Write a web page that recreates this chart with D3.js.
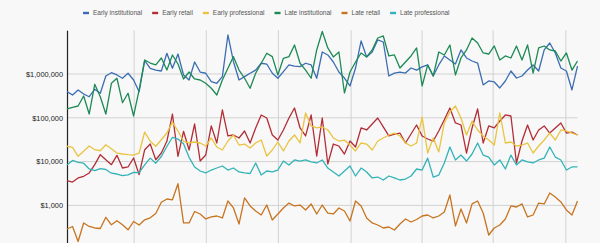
<!DOCTYPE html>
<html><head><meta charset="utf-8">
<script src="https://cdn.jsdelivr.net/npm/d3@7"></script>
<style>
body{margin:0;background:#f8f8f8;}
svg{display:block;font-family:"Liberation Sans",Arial,sans-serif;}
</style>
</head><body>
<svg id="chart" width="600" height="243"></svg>
<script>
const seriesNames = ["Early institutional","Early retail","Early professional","Late institutional","Late retail","Late professional"];
const seriesColors = ["#3b6db3","#b32d36","#e9c440","#1d8a55","#c8741f","#32b3b8"];

const earlyInstitutional = [395000,332000,432000,350000,303000,448000,363000,900000,1070000,950000,800000,1040000,730000,395000,2010000,1350000,1230000,1170000,2970000,1350000,2860000,950000,730000,1880000,1110000,1040000,668000,614000,869000,7780000,1910000,730000,869000,1040000,1230000,1760000,1690000,1040000,800000,1130000,1610000,1520000,1470000,1760000,1610000,800000,3180000,2720000,1880000,1110000,810000,533000,1370000,5680000,2450000,3180000,5980000,5380000,900000,1050000,1110000,1050000,1370000,1230000,1450000,1610000,900000,1610000,2580000,2090000,1690000,3540000,2320000,1980000,1780000,562000,693000,658000,480000,693000,1170000,810000,900000,1230000,1610000,1170000,3540000,5110000,3020000,1370000,1170000,432000,1520000];
const earlyRetail = [3670,3420,4230,4620,5500,8510,14400,11000,8510,13900,7140,7540,12100,5030,18700,25200,11000,15700,29100,122000,13200,49200,18400,72200,10300,14100,65100,26600,151000,38500,40500,34600,50000,26600,58600,116000,99000,40500,31100,52700,99000,167000,58600,38500,116000,13400,99000,8820,25200,22700,14900,29500,21500,58600,52700,72200,99000,61800,38500,42600,44900,26600,42600,68500,38500,32800,29500,50000,90000,167000,76200,68500,15700,58600,159000,26600,65100,58600,84500,116000,110000,9300,29500,68500,31100,52700,65100,44900,58600,76200,44900,47300,40500];
const earlyProfessional = [22400,21200,13200,17200,22700,18700,17700,24300,19700,15700,14900,14400,14100,15700,47300,29100,22400,31600,44900,79500,50000,29100,26600,28000,26600,22700,34600,21500,18400,29500,40500,23900,25200,20400,26600,31100,13400,18400,28000,17500,29500,40500,26600,129000,65100,58600,61800,52700,34600,29500,31100,23900,17500,26600,25200,18400,29500,34600,40500,44900,38500,26600,22700,26600,104000,15700,34600,16600,76200,136000,186000,99000,40500,84500,52700,38500,31100,23900,129000,26600,28000,22700,23900,26600,15700,22700,31100,44900,31100,52700,50000,44900,40500];
const lateInstitutional = [159000,174000,186000,315000,122000,583000,303000,122000,614000,800000,221000,363000,110000,432000,2090000,1780000,1610000,2320000,1230000,2720000,1690000,770000,1110000,770000,730000,614000,472000,332000,730000,1350000,2490000,1230000,800000,472000,1040000,1760000,2970000,2490000,950000,2280000,2490000,4600000,1760000,1230000,800000,3540000,9360000,3930000,2450000,3180000,369000,1110000,1880000,3020000,2450000,3540000,6640000,7380000,2580000,2720000,1370000,1880000,2580000,3930000,533000,1610000,900000,3180000,2720000,4600000,950000,2320000,3540000,6640000,5110000,3020000,2860000,4360000,2090000,2580000,2320000,4360000,2090000,4600000,1050000,3930000,4360000,3540000,3350000,1980000,3020000,1230000,1980000];
const lateRetail = [289,330,150,397,330,305,297,535,361,448,361,277,429,357,469,521,654,1180,1400,1340,3130,400,397,726,637,490,544,573,516,1260,874,376,1480,970,746,604,1020,464,637,874,1130,970,1020,786,1080,637,1020,670,637,874,746,440,1260,970,516,397,357,305,321,274,376,490,418,477,573,604,516,573,708,1730,339,829,397,1080,1260,670,211,305,357,490,970,920,1080,544,604,1130,1080,1920,1560,1200,786,604,1260];
const lateProfessional = [8370,10600,9650,9200,6780,6200,6890,6600,5440,5210,4770,5000,5700,5580,8450,12000,9200,13100,22100,35900,32800,25600,12500,7540,6100,5500,6420,7140,7940,6420,7140,5800,5500,5350,9300,4940,6100,5800,6420,10300,8370,10900,10300,10900,9800,9300,10900,7140,5800,4690,6100,7940,4690,7140,5800,4230,4440,3800,4690,4230,3800,4000,4690,6780,6420,12000,4440,4940,9300,21500,10900,14100,10300,14900,26600,14100,12700,8370,10900,6780,14100,8370,10900,9800,9300,10900,12000,21500,12700,10900,6420,7540,7540];

const yTickValues = [1000, 10000, 100000, 1000000];
const quarterGridWeeks = [12.1, 25.1, 38.1, 51.2, 64.0, 76.8, 89.9];

const allSeries = [earlyInstitutional, earlyRetail, earlyProfessional, lateInstitutional, lateRetail, lateProfessional];

const svg = d3.select("#chart");
const W = 600, H = 243;
const margin = {left: 67, right: 22.5, top: 30.2};
const plotBottom = 249.2;

const x = d3.scaleLinear().domain([0, earlyInstitutional.length - 1]).range([margin.left, W - margin.right]);
const y = d3.scaleLog().domain([100, 10000000]).range([plotBottom, margin.top]);

svg.append("rect").attr("width", W).attr("height", H).attr("fill", "#f8f8f8");

// horizontal grid
svg.append("g").selectAll("line").data(yTickValues).join("line")
  .attr("x1", x.range()[0]).attr("x2", x.range()[1])
  .attr("y1", d => y(d)).attr("y2", d => y(d))
  .attr("stroke", "#d2d2d2").attr("stroke-width", 1);

// vertical grid
svg.append("g").selectAll("line").data(quarterGridWeeks).join("line")
  .attr("x1", d => x(d)).attr("x2", d => x(d))
  .attr("y1", margin.top).attr("y2", plotBottom)
  .attr("stroke", "#d2d2d2").attr("stroke-width", 1);

// y axis
const yAxis = d3.axisLeft(y).tickValues(yTickValues).tickSize(0).tickPadding(4)
  .tickFormat(d => "$" + d3.format(",")(d));
const gy = svg.append("g").attr("transform", `translate(${margin.left},0)`).call(yAxis);
gy.select(".domain").attr("stroke", "#222").attr("stroke-width", 1.2);
gy.selectAll("text").attr("font-size", 7.4).attr("fill", "#222")
  .attr("font-family", '"Liberation Sans",Arial,sans-serif');

// lines
const line = d3.line().x((d, i) => x(i)).y(d => y(d));
svg.append("g").selectAll("path").data(allSeries).join("path")
  .attr("d", d => line(d))
  .attr("fill", "none")
  .attr("stroke", (d, i) => seriesColors[i])
  .attr("stroke-width", 1.3)
  .attr("stroke-linejoin", "round");

// legend
const lg = svg.append("g");
let cursor = 83;
seriesNames.forEach((name, i) => {
  lg.append("line").attr("x1", cursor).attr("x2", cursor + 6)
    .attr("y1", 13).attr("y2", 13)
    .attr("stroke", seriesColors[i]).attr("stroke-width", 2.4);
  const t = lg.append("text").attr("x", cursor + 10).attr("y", 15.3)
    .attr("font-size", 6.5).attr("fill", "#555").text(name);
  cursor = cursor + 10 + t.node().getComputedTextLength() + 10;
});
</script>
</body></html>
